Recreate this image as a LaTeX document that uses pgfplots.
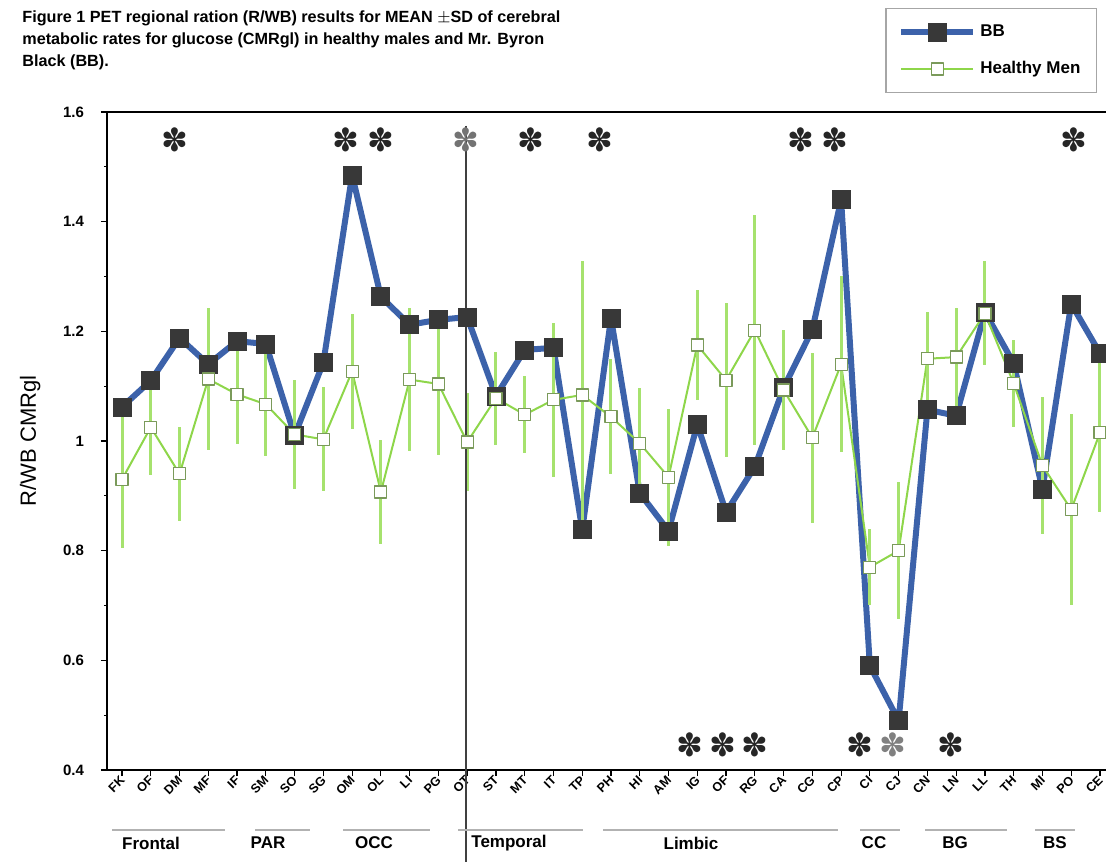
\documentclass[border=0pt]{standalone}
\usepackage{fontspec}
\setmainfont{Liberation Sans}
\newfontfamily\dejavu{DejaVu Sans}
\usepackage{pgfplots}
\pgfplotsset{compat=1.18}
\usepackage{pgfplotstable}

\definecolor{bbblue}{HTML}{3C62AA}
\definecolor{bbmark}{HTML}{383838}
\definecolor{hmgreen}{HTML}{8ED64A}
\definecolor{hmbar}{HTML}{A6E26E}
\definecolor{hmmark}{HTML}{7A9A5A}

\pgfplotstableread{
x y
1 1.062
2 1.110
3 1.188
4 1.140
5 1.182
6 1.177
7 1.010
8 1.143
9 1.485
10 1.263
11 1.212
12 1.221
13 1.226
14 1.082
15 1.166
16 1.170
17 0.838
18 1.224
19 0.905
20 0.836
21 1.030
22 0.870
23 0.953
24 1.097
25 1.203
26 1.440
27 0.590
28 0.490
29 1.057
30 1.046
31 1.235
32 1.142
33 0.912
34 1.250
35 1.160
}\bbdata

\pgfplotstableread{
x y err
1 0.930 0.125
2 1.025 0.087
3 0.940 0.085
4 1.113 0.13
5 1.085 0.09
6 1.067 0.095
7 1.012 0.10
8 1.003 0.095
9 1.127 0.105
10 0.907 0.095
11 1.112 0.13
12 1.104 0.13
13 0.998 0.09
14 1.078 0.085
15 1.048 0.07
16 1.075 0.14
17 1.084 0.245
18 1.044 0.105
19 0.996 0.10
20 0.934 0.125
21 1.175 0.10
22 1.111 0.14
23 1.202 0.21
24 1.093 0.11
25 1.006 0.155
26 1.140 0.16
27 0.770 0.07
28 0.800 0.125
29 1.150 0.085
30 1.153 0.09
31 1.233 0.095
32 1.105 0.08
33 0.955 0.125
34 0.875 0.175
35 1.015 0.145
}\hmdata

\begin{document}
\begin{tikzpicture}[x=1pt,y=1pt]
\useasboundingbox (0,0) rectangle (553,430.5);
\begin{axis}[
  at={(53.5pt,45.5pt)}, anchor=south west,
  scale only axis, width=499.5pt, height=329pt,
  xmin=0.478, xmax=35.21, ymin=0.4, ymax=1.6,
  axis x line*=box, axis y line*=left,
  axis line style={black, line width=0.8pt},
  clip=false,
  tick align=outside,
  xtick pos=bottom,
  xtick={1,...,35},
  xticklabels={FK,OF,DM,MF,IF,SM,SO,SG,OM,OL,LI,PG,OT,ST,MT,IT,TP,PH,HI,AM,IG,OF,RG,CA,CG,CP,CI,CJ,CN,LN,LL,TH,MI,PO,CE},
  xticklabel style={rotate=45, anchor=east, font=\bfseries\fontsize{6.3}{6.3}\selectfont, inner sep=0.5pt, yshift=-1pt},
  ytick={0.4,0.6,...,1.6},
  minor y tick num=1,
  major tick length=3pt, minor tick length=1.5pt,
  tick style={black, line width=0.6pt},
  /pgf/number format/assume math mode=true,
  yticklabel style={font=\bfseries\fontsize{7.5}{8}\selectfont, xshift=-5pt},
  ylabel={R/WB CMRgl},
  ylabel style={at={(axis description cs:-0.077,0.5)}, anchor=center, font=\fontsize{11}{12}\selectfont},
  legend style={at={(0.991,1.158)}, anchor=north east, draw=gray!70, line width=0.6pt,
     font=\bfseries\fontsize{8.5}{9}\selectfont, row sep=7pt, inner xsep=6pt, inner ysep=6pt,
     cells={anchor=west}},
  legend image code/.code={\draw[mark repeat=2,mark phase=2,#1] plot coordinates {(0cm,0cm) (0.635cm,0cm) (1.27cm,0cm)};},
]
\addplot[color=bbblue, line width=3pt, line join=round, mark=square*, mark size=4.5pt,
  mark options={fill=bbmark, draw=bbmark, line width=0.4pt, solid, line join=miter}] table[x=x,y=y] {\bbdata};
\addlegendentry{BB}
\addplot[color=hmgreen, line width=1pt, line join=round, mark=square*, mark size=3pt,
  mark options={fill=white, draw=hmmark, line width=0.6pt},
  error bars/.cd, y dir=both, y explicit, error mark=none,
  error bar style={color=hmbar, line width=1.5pt}] table[x=x,y=y,y error=err] {\hmdata};
\addlegendentry{Healthy Men}
% separator line at OT
\draw[black!75, line width=1pt] (axis cs:12.95,1.575) -- (axis cs:12.95,0.2);
% significance stars
\begin{scope}[every node/.style={font=\dejavu\fontsize{16}{16}\selectfont, text=black!85}]
\node at (axis cs:2.85,1.549) {✽};
\node at (axis cs:8.8,1.549) {✽};
\node at (axis cs:10.0,1.549) {✽};
\node[text=black!55] at (axis cs:12.95,1.549) {✽};
\node at (axis cs:15.2,1.549) {✽};
\node at (axis cs:17.6,1.549) {✽};
\node at (axis cs:24.6,1.549) {✽};
\node at (axis cs:25.8,1.549) {✽};
\node at (axis cs:34.1,1.549) {✽};
\node at (axis cs:20.75,0.4455) {✽};
\node at (axis cs:21.9,0.4455) {✽};
\node at (axis cs:23.0,0.4455) {✽};
\node at (axis cs:26.66,0.4455) {✽};
\node[text=black!50] at (axis cs:27.8,0.4455) {✽};
\node at (axis cs:29.8,0.4455) {✽};
\end{scope}
\end{axis}
% title
\node[anchor=north west, align=left, font=\bfseries\fontsize{8.1}{11}\selectfont, inner sep=0pt] at (11,425.5)
{Figure 1 PET regional ration (R/WB) results for MEAN $\pm$SD of cerebral\\
metabolic rates for glucose (CMRgl) in healthy males and Mr. Byron\\
Black (BB).};
% group underlines and labels
\begin{scope}[gray!60, line width=0.6pt]
\draw (56,15.5) -- (112.5,15.5);
\draw (127.5,15.5) -- (155,15.5);
\draw (171.5,15.5) -- (215,15.5);
\draw (229,15.5) -- (291.5,15.5);
\draw (301.5,15.5) -- (419,15.5);
\draw (430,15.5) -- (450,15.5);
\draw (462.5,15.5) -- (503.5,15.5);
\draw (517.5,15.5) -- (537.5,15.5);
\end{scope}
\begin{scope}[every node/.style={font=\bfseries\fontsize{8.5}{9}\selectfont, inner sep=0pt}]
\node at (75.5,9) {Frontal};
\node at (134,9) {PAR};
\node at (187,9) {OCC};
\node at (254.5,9) {Temporal};
\node at (345.5,9) {Limbic};
\node at (437,9) {CC};
\node at (477.5,9) {BG};
\node at (527.5,9) {BS};
\end{scope}
\end{tikzpicture}
\end{document}
